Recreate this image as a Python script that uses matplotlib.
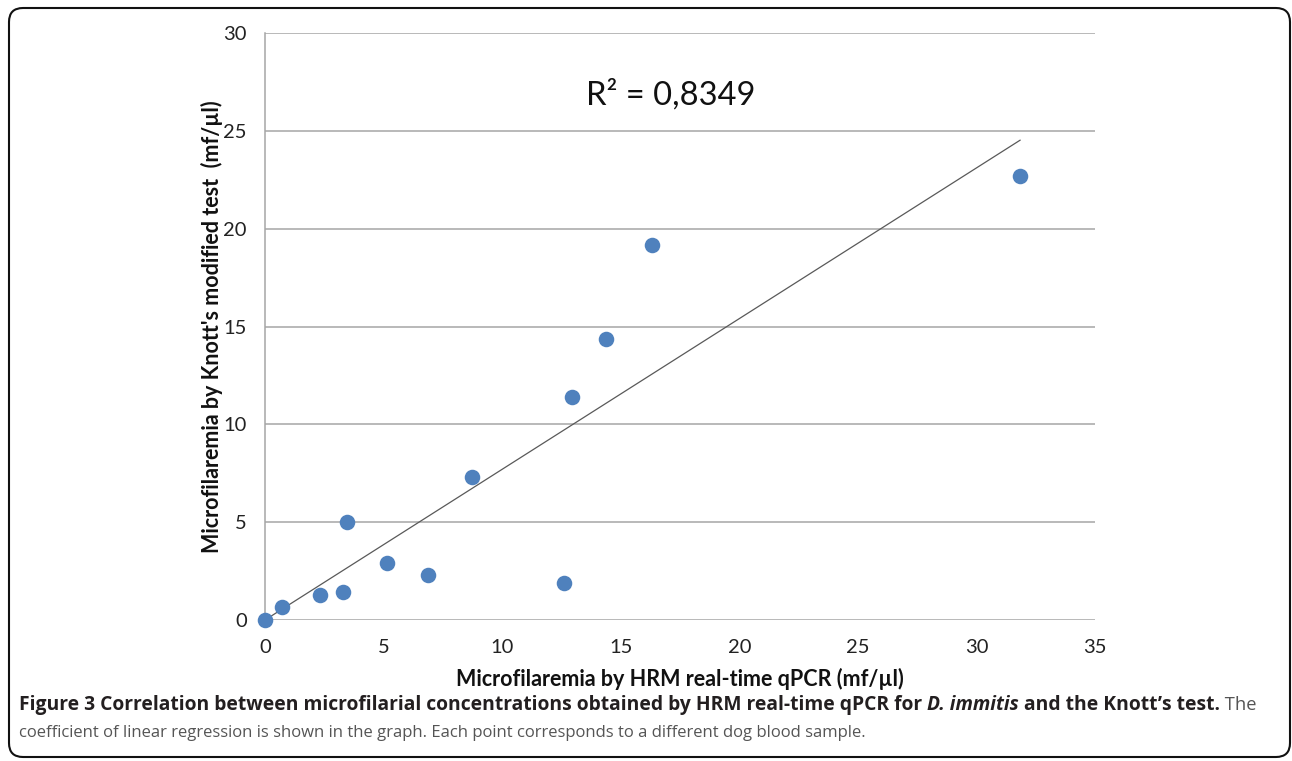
import numpy as np
import matplotlib.pyplot as plt
from matplotlib.patches import FancyBboxPatch
from matplotlib.transforms import IdentityTransform

# values (mf/ul)
qpcr = [0, 0.72, 2.32, 3.30, 3.44, 5.16, 6.87, 8.72, 12.61, 12.95, 14.36, 16.30, 31.84]
knott = [0, 0.66, 1.28, 1.43, 4.99, 2.93, 2.30, 7.29, 1.87, 11.41, 14.37, 19.18, 22.71]
x_ticks = [0, 5, 10, 15, 20, 25, 30, 35]
y_ticks = [0, 5, 10, 15, 20, 25, 30]
r2_label = 'R² = 0,8349'

caption_1 = [
    ('Figure 3 Correlation between microfilarial concentrations obtained by HRM real-time qPCR for ', 'bold', 'normal', '#231f20'),
    ('D. immitis', 'bold', 'italic', '#231f20'),
    (' and the Knott\u2019s test.', 'bold', 'normal', '#231f20'),
    (' The', 'normal', 'normal', '#555555'),
]
caption_2 = 'coefficient of linear regression is shown in the graph. Each point corresponds to a different dog blood sample.'

W, H = 1292, 761
chart_font = 'Lato'
cap_font = 'Open Sans'

fig = plt.figure(figsize=(W / 100, H / 100), dpi=100)
ax = fig.add_axes([265 / W, 1 - 620 / H, 830 / W, 587 / H])

x = np.array(qpcr)
y = np.array(knott)
# linear trend through the origin (Excel style)
slope = np.sum(x * y) / np.sum(x * x)
xs = np.array([0, x.max()])
ax.plot(xs, slope * xs, color='#595959', lw=0.9, zorder=2)
ax.scatter(x, y, s=125, color='#4f81bd', linewidths=0, zorder=3, clip_on=False)

ax.set_xlim(0, 35)
ax.set_ylim(0, 30)
ax.set_xticks(x_ticks)
ax.set_yticks(y_ticks)
ax.yaxis.grid(True, color='#a6a6a6', lw=1.1)
ax.set_axisbelow(True)
for side in ['top', 'right', 'bottom']:
    ax.spines[side].set_visible(False)
ax.spines['left'].set_color('#a6a6a6')
ax.spines['left'].set_linewidth(1.1)
ax.tick_params(length=0, labelsize=14.5, colors='#222222')
ax.tick_params(axis='y', pad=13)
ax.tick_params(axis='x', pad=14)
for lab in ax.get_xticklabels() + ax.get_yticklabels():
    lab.set_fontfamily(chart_font)

ax.set_xlabel('Microfilaremia by HRM real-time qPCR (mf/µl)', fontsize=15.5, fontweight='bold',
              fontfamily=chart_font, labelpad=8, color='#111111')
ax.set_ylabel('Microfilaremia by Knott\'s modified test  (mf/µl)', fontsize=15.5, fontweight='bold',
              fontfamily=chart_font, labelpad=0, color='#111111')

ax.text(17.12, 26.85, r2_label, fontsize=23.5, fontfamily=chart_font, ha='center', va='center', color='#111111')

# caption
renderer = fig.canvas.get_renderer()
cx = 19 / W
for txt, weight, style, color in caption_1:
    size = 13.9 if weight == 'bold' else 13.2
    t = fig.text(cx, 1 - 705 / H, txt, fontsize=size, fontweight=weight, fontstyle=style,
                 color=color, fontfamily=cap_font, va='center')
    bb = t.get_window_extent(renderer)
    cx = bb.x1 / W
fig.text(19 / W, 1 - 733 / H, caption_2, fontsize=12, color='#555555',
         fontfamily=cap_font, va='center')

frame = FancyBboxPatch((9, 4), 1281, 749, boxstyle='round,pad=0,rounding_size=14',
                       transform=IdentityTransform(), fill=False, ec='#111111', lw=1.5)
fig.add_artist(frame)

fig.savefig('out.png', dpi=100)
